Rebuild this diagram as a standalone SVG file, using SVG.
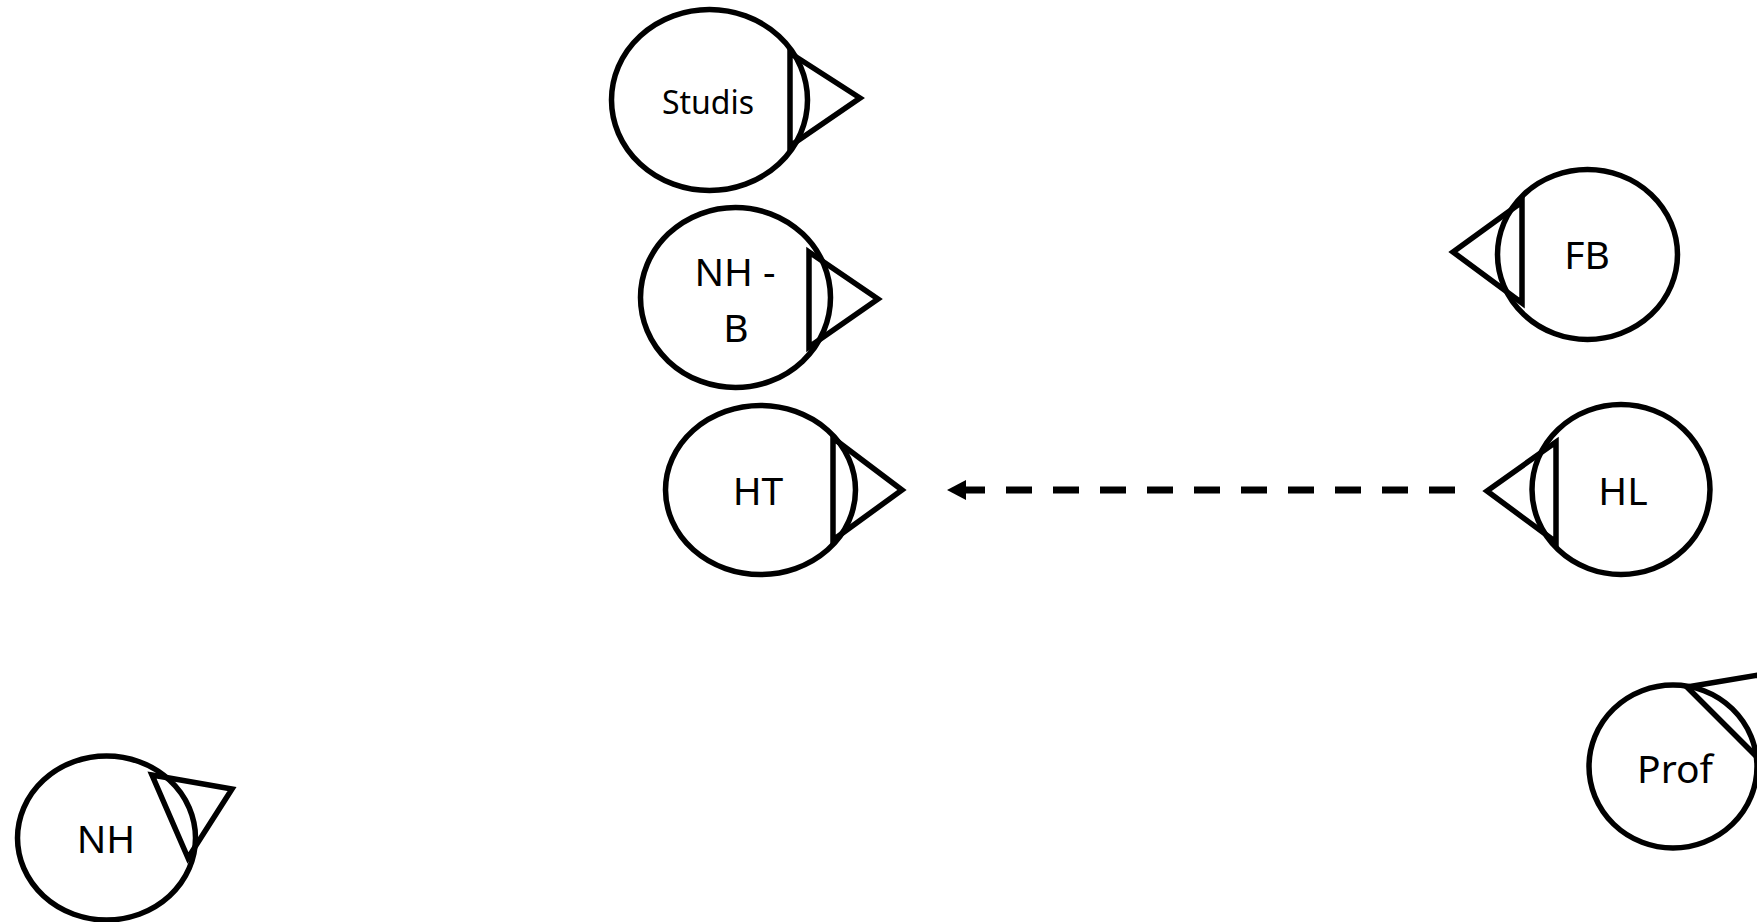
<svg xmlns="http://www.w3.org/2000/svg" width="1757" height="922" viewBox="0 0 1757 922">
<style>
.n{fill:#fff;stroke:#000;stroke-width:5.5}
.t{fill:none;stroke:#000;stroke-width:5.5;stroke-linejoin:miter}
.l{font-family:"Noto Sans","Open Sans",sans-serif;font-size:39px;fill:#000;text-anchor:middle}
.c{fill:none;stroke:#000;stroke-width:7;stroke-dasharray:26 21}
</style>
<defs>
<marker id="ah" markerUnits="userSpaceOnUse" markerWidth="22" markerHeight="22" viewBox="0 0 22 22" refX="3" refY="11" orient="auto">
<path d="M0,1 L19,11 L0,21 z" fill="#000"/>
</marker>
</defs>
<rect width="1757" height="922" fill="#fff"/>
<g id="connectors">
<path class="c" d="M1455,490 L963,490" marker-end="url(#ah)"/>
</g>
<g id="node-studis">
<ellipse class="n" cx="709.5" cy="100" rx="98" ry="90.5"/>
<polygon class="t" points="790,53 860,98 790,146"/>
<text class="l" x="708" y="114" style="font-size:32px">Studis</text>
</g>
<g id="node-nhb">
<ellipse class="n" cx="735.5" cy="297.5" rx="95" ry="90"/>
<polygon class="t" points="809,252 878,299 809,347"/>
<text class="l" x="735" y="286">NH -</text>
<text class="l" x="736" y="342">B</text>
</g>
<g id="node-ht">
<ellipse class="n" cx="760.5" cy="490" rx="95" ry="84.5"/>
<polygon class="t" points="833,438 902,490 833,540"/>
<text class="l" x="758" y="505">HT</text>
</g>
<g id="node-fb">
<ellipse class="n" cx="1587.5" cy="254.5" rx="90" ry="85"/>
<polygon class="t" points="1522,202 1453,252 1522,303"/>
<text class="l" x="1587" y="269">FB</text>
</g>
<g id="node-hl">
<ellipse class="n" cx="1621" cy="489.5" rx="89" ry="85"/>
<polygon class="t" points="1556,442 1487,491 1556,542"/>
<text class="l" x="1623" y="505">HL</text>
</g>
<g id="node-prof">
<ellipse class="n" cx="1673" cy="766.5" rx="84" ry="81.5"/>
<polygon class="t" points="1687,687 1771,673 1758,758"/>
<text class="l" x="1675" y="783">Prof</text>
</g>
<g id="node-nh">
<ellipse class="n" cx="106.5" cy="838" rx="89" ry="82"/>
<polygon class="t" points="152,775 232,789 188,858"/>
<text class="l" x="106" y="853">NH</text>
</g>
</svg>
